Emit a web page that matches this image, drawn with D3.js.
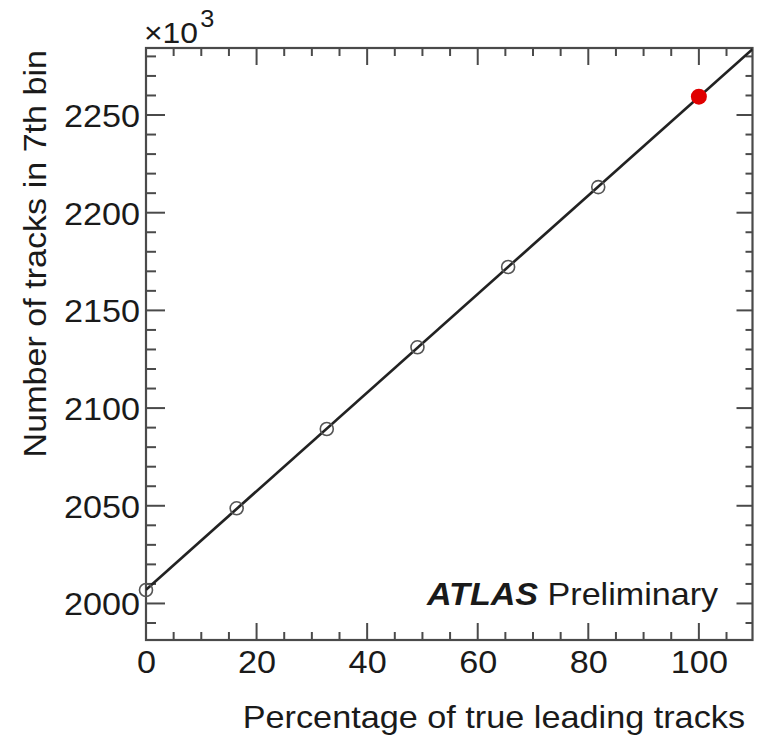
<!DOCTYPE html>
<html>
<head>
<meta charset="utf-8">
<script src="https://cdn.jsdelivr.net/npm/d3@7/dist/d3.min.js"></script>
<style>
  html, body { margin: 0; padding: 0; background: #fff; }
  svg { display: block; }
  text { font-family: "Liberation Sans", Arial, Helvetica, sans-serif; fill: #1a1a1a; }
</style>
</head>
<body>
<svg id="chart" width="757" height="741"></svg>
<script>
// ---- data ----
const percentTrue = [0, 16.4, 32.7, 49.1, 65.5, 81.8];
const tracksOpen = [2006.9, 2048.7, 2089.3, 2131.1, 2172.2, 2213.1];   // ×10^3
const percentNominal = [100];
const tracksNominal = [2259.4];
const xTickValues = [0, 20, 40, 60, 80, 100];
const yTickValues = [2000, 2050, 2100, 2150, 2200, 2250];
const xTitle = "Percentage of true leading tracks";
const yTitle = "Number of tracks in 7th bin";
const xDomain = [0, 109.7];
const yDomain = [1981.3, 2284.3];

// ---- layout ----
const svg = d3.select("#chart");
const L = 146, R = 752.5, T = 48, B = 640;
const x = d3.scaleLinear().domain(xDomain).range([L, R]);
const y = d3.scaleLinear().domain(yDomain).range([B, T]);
const SX = 1.07; // horizontal widening of the reference's lettering

const axisColor = "#4a4a4a";
const majX = 17, minX = 8, majY = 19, minY = 10;

const xMinor = d3.range(0, xDomain[1], 5).filter(v => v % 20 !== 0);
const yMinor = d3.range(1990, yDomain[1], 10).filter(v => v % 50 !== 0);

const g = svg.append("g");

// bottom axis labels
const xb = g.append("g").attr("transform", `translate(0,${B})`)
  .call(d3.axisBottom(x).tickValues(xTickValues).tickSize(0).tickPadding(0).tickFormat(d3.format("d")));
xb.select(".domain").remove();
xb.selectAll("text").attr("font-size", 32).attr("dy", null).attr("y", 33.5)
  .attr("transform", `scale(${SX},1)`);

// left axis labels
const yl = g.append("g").attr("transform", `translate(${L},0)`)
  .call(d3.axisLeft(y).tickValues(yTickValues).tickSize(0).tickPadding(5.5).tickFormat(d3.format("d")));
yl.select(".domain").remove();
yl.selectAll("text").attr("font-size", 32).attr("dy", "0.36em")
  .attr("transform", `scale(${SX},1)`);

// tick marks (all four sides, inward)
const ticks = g.append("g").attr("stroke", axisColor).attr("stroke-width", 2);
function xt(vals, len) {
  vals.forEach(v => {
    ticks.append("line").attr("x1", x(v)).attr("x2", x(v)).attr("y1", B).attr("y2", B - len);
    ticks.append("line").attr("x1", x(v)).attr("x2", x(v)).attr("y1", T).attr("y2", T + len);
  });
}
function yt(vals, len, lenR) {
  vals.forEach(v => {
    ticks.append("line").attr("x1", L).attr("x2", L + len).attr("y1", y(v)).attr("y2", y(v));
    ticks.append("line").attr("x1", R).attr("x2", R - lenR).attr("y1", y(v)).attr("y2", y(v));
  });
}
xt(xTickValues, majX); xt(xMinor, minX);
yt(yTickValues, majY, 16); yt(yMinor, minY, 7);

// frame
g.append("rect").attr("x", L).attr("y", T).attr("width", R - L).attr("height", B - T)
  .attr("fill", "none").attr("stroke", axisColor).attr("stroke-width", 2.2);

// linear fit through all points
const allX = percentTrue.concat(percentNominal), allY = tracksOpen.concat(tracksNominal);
const mx = d3.mean(allX), my = d3.mean(allY);
const slope = d3.sum(allX.map((v, i) => (v - mx) * (allY[i] - my))) / d3.sum(allX.map(v => (v - mx) ** 2));
const icpt = my - slope * mx;
svg.append("clipPath").attr("id", "clip").append("rect").attr("x", L).attr("y", T).attr("width", R - L).attr("height", B - T);
const fitPts = xDomain.map(v => [v, icpt + slope * v]);
g.append("path").attr("clip-path", "url(#clip)")
  .attr("d", d3.line().x(d => x(d[0])).y(d => y(d[1]))(fitPts))
  .attr("fill", "none").attr("stroke", "#222").attr("stroke-width", 2.7);

// open markers
g.selectAll("circle.open").data(percentTrue).join("circle").attr("class", "open")
  .attr("cx", d => x(d)).attr("cy", (d, i) => y(tracksOpen[i])).attr("r", 6.5)
  .attr("fill", "none").attr("stroke", "#555").attr("stroke-width", 1.6);
// nominal marker
g.selectAll("circle.nom").data(percentNominal).join("circle").attr("class", "nom")
  .attr("cx", d => x(d)).attr("cy", (d, i) => y(tracksNominal[i])).attr("r", 8)
  .attr("fill", "#e00000");

// helper: widened text at (px,py)
function wtext(px, py, sx) {
  return svg.append("g").attr("transform", `translate(${px},${py}) scale(${sx},1)`).append("text");
}

// multiplier
const mult = wtext(144, 43, 1.1).attr("font-size", 29);
mult.append("tspan").text("×10");
mult.append("tspan").attr("font-size", 23).attr("dy", -16).attr("dx", 2).text("3");

// axis titles
wtext(745, 728, SX).attr("text-anchor", "end").attr("font-size", 32).text(xTitle);
svg.append("g").attr("transform", "translate(46,50) rotate(-90) scale(1.1,1)")
  .append("text").attr("text-anchor", "end").attr("font-size", 31).text(yTitle);

// label
const lab = wtext(427, 605, 1.1).attr("font-size", 31);
lab.append("tspan").attr("font-weight", "bold").attr("font-style", "italic").text("ATLAS");
lab.append("tspan").text(" Preliminary");
</script>
</body>
</html>
